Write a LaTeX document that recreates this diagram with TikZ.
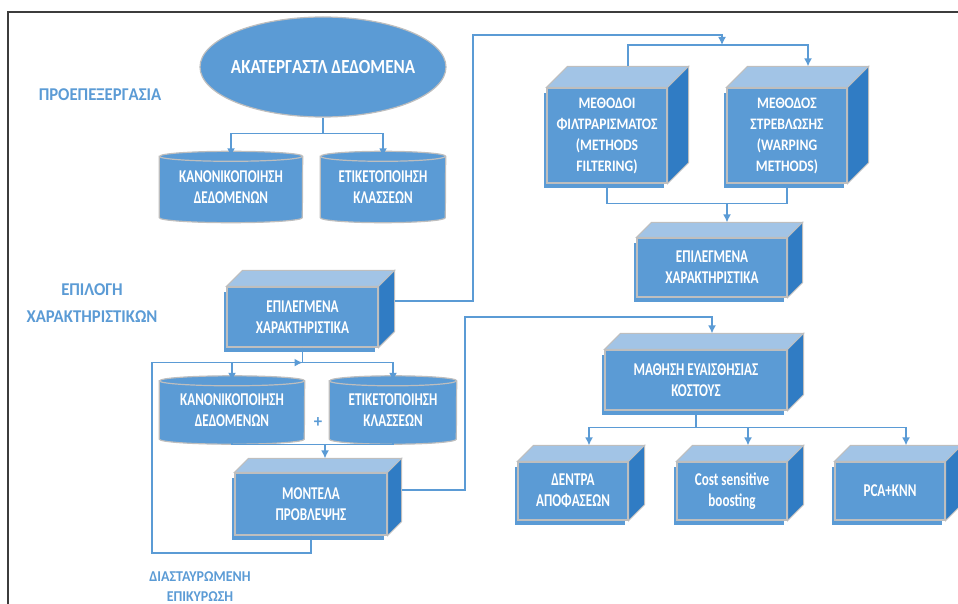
\documentclass[tikz,border=0pt]{standalone}
\usepackage{fontspec}
\newfontfamily\boxfont[FakeStretch=0.73]{Carlito}
\newfontfamily\methodfont[FakeStretch=0.85]{Carlito}
\newfontfamily\tagfont[FakeStretch=0.93]{Carlito}
\usepackage{tikz}
\usetikzlibrary{shapes.geometric, arrows.meta, shadows}
\definecolor{boxblue}{RGB}{91,155,213}
\definecolor{topblue}{RGB}{162,196,230}
\definecolor{sideblue}{RGB}{48,124,196}
\definecolor{rimgray}{RGB}{190,190,190}
\definecolor{framegray}{RGB}{60,60,60}
\tikzset{>={Latex[length=8pt,width=8pt]}}
\tikzset{
    front/.style={rectangle, fill=boxblue, draw=rimgray, line width=1.2pt, text=white, align=center,
        font=\boxfont\bfseries\fontsize{18}{21}\selectfont,
        drop shadow={opacity=1, fill=boxblue, shadow xshift=-3pt, shadow yshift=-5pt}},
    drumtext/.style={rectangle, inner sep=0pt, text=white, align=center, font=\boxfont\bfseries\fontsize{18}{21}\selectfont},
    drumline/.style={fill=boxblue, draw=rimgray, line width=1.2pt},
    link/.style={draw=boxblue, line width=1.5pt},
    tag/.style={text=boxblue, align=center, font=\tagfont\bfseries\fontsize{18}{27}\selectfont}
}
% cube faces on top of a front node: #1 node, #2 depth
\newcommand{\cube}[2]{
    \filldraw[fill=topblue, draw=rimgray, line width=1pt](#1.north west)--++(#2,-#2)--([shift={(#2,-#2)}]#1.north east)--(#1.north east)--cycle;
    \filldraw[fill=sideblue, draw=rimgray, line width=1pt](#1.north east)--++(#2,-#2)--([shift={(#2,-#2)}]#1.south east)--(#1.south east)--cycle;
    \coordinate (#1 top) at ([shift={(#2,-#2)}]#1.north);
    \coordinate (#1 side) at ([shift={(#2,-#2)}]#1.east);
}
% drum around a text node: #1 node, #2 half width
\newcommand{\drum}[2]{
    \filldraw[drumline](#1.north west)--(#1.south west)arc[start angle=180, end angle=360, x radius=#2pt, y radius=5pt]
        --(#1.north east)arc[start angle=0, end angle=180, x radius=#2pt, y radius=5pt]--cycle;
    \draw[drumline, fill=none](#1.north west)arc[start angle=180, end angle=360, x radius=#2pt, y radius=5pt];
}

\begin{document}
\begin{tikzpicture}[x=1pt, y=-1pt]
    \useasboundingbox (0, 0) rectangle (958, 604);
    \draw[framegray, line width=1.5pt](958, 12)--(8, 12)--(8, 604);

    % labels
    \node[tag] (pre) at (100, 95) {ΠΡΟΕΠΕΞΕΡΓΑΣΙΑ};
    \node[tag] (fsel) at (92, 303) {ΕΠΙΛΟΓΗ\\ΧΑΡΑΚΤΗΡΙΣΤΙΚΩΝ};
    \node[tag, font=\tagfont\bfseries\fontsize{15}{20}\selectfont] (cv) at (200, 587) {ΔΙΑΣΤΑΥΡΩΜΕΝΗ\\ΕΠΙΚΥΡΩΣΗ};
    \node[tag] (plus) at (318, 423) {+};

    % preprocessing
    \node[ellipse, fill=boxblue, draw=rimgray, line width=1.2pt, minimum width=246pt, minimum height=100pt] (raw) at (323, 67) {};
    \node[text=white, font=\methodfont\bfseries\fontsize{20}{24}\selectfont] at (raw) {ΑΚΑΤΕΡΓΑΣΤΛ ΔΕΔΟΜΕΝΑ};
    \node[drumtext, minimum width=143pt, minimum height=61pt] (norm1) at (231, 187) {};
    \drum{norm1}{71.5}
    \node[drumtext] at (norm1) {ΚΑΝΟΝΙΚΟΠΟΙΗΣΗ\\ΔΕΔΟΜΕΝΩΝ};
    \node[drumtext, minimum width=125pt, minimum height=61pt] (class1) at (383, 187) {};
    \drum{class1}{62.5}
    \node[drumtext] at (class1) {ΕΤΙΚΕΤΟΠΟΙΗΣΗ\\ΚΛΑΣΣΕΩΝ};

    % feature selection
    \node[front, minimum width=151pt, minimum height=60pt] (sel1) at (302.5, 317) {ΕΠΙΛΕΓΜΕΝΑ\\ΧΑΡΑΚΤΗΡΙΣΤΙΚΑ};
    \cube{sel1}{16}
    \node[drumtext, minimum width=145pt, minimum height=58pt] (norm2) at (232, 410) {};
    \drum{norm2}{72.5}
    \node[drumtext] at (norm2) {ΚΑΝΟΝΙΚΟΠΟΙΗΣΗ\\ΔΕΔΟΜΕΝΩΝ};
    \node[drumtext, minimum width=127pt, minimum height=58pt] (class2) at (393, 410) {};
    \drum{class2}{63.5}
    \node[drumtext] at (class2) {ΕΤΙΚΕΤΟΠΟΙΗΣΗ\\ΚΛΑΣΣΕΩΝ};
    \node[front, minimum width=152pt, minimum height=62pt] (model) at (311, 504) {ΜΟΝΤΕΛΑ\\ΠΡΟΒΛΕΨΗΣ};
    \cube{model}{14}

    % methods
    \node[front, minimum width=120pt, minimum height=95pt, font=\methodfont\bfseries\fontsize{16}{21}\selectfont] (filt) at (607, 135.5) {ΜΕΘΟΔΟΙ\\ΦΙΛΤΡΑΡΙΣΜΑΤΟΣ\\(METHODS\\FILTERING)};
    \cube{filt}{21}
    \node[front, minimum width=120pt, minimum height=95pt, font=\methodfont\bfseries\fontsize{16}{21}\selectfont] (warp) at (787, 135.5) {ΜΕΘΟΔΟΣ\\ΣΤΡΕΒΛΩΣΗΣ\\(WARPING\\METHODS)};
    \cube{warp}{21}
    \node[front, minimum width=150pt, minimum height=59pt] (sel2) at (712, 267.5) {ΕΠΙΛΕΓΜΕΝΑ\\ΧΑΡΑΚΤΗΡΙΣΤΙΚΑ};
    \cube{sel2}{15}

    % cost sensitive learning
    \node[front, minimum width=182pt, minimum height=60pt] (cost) at (696, 380) {ΜΑΘΗΣΗ ΕΥΑΙΣΘΗΣΙΑΣ\\ΚΟΣΤΟΥΣ};
    \cube{cost}{16}
    \node[front, minimum width=110pt, minimum height=58pt] (tree) at (573, 491) {ΔΕΝΤΡΑ\\ΑΠΟΦΑΣΕΩΝ};
    \cube{tree}{16}
    \node[front, minimum width=110pt, minimum height=58pt] (boost) at (732, 491) {Cost sensitive\\boosting};
    \cube{boost}{16}
    \node[front, minimum width=110pt, minimum height=58pt] (pca) at (890, 491) {PCA+KNN};
    \cube{pca}{16}

    % connectors
    \coordinate (s1) at ([yshift=-16pt]raw.south);
    \draw[link](raw.south)--(s1);
    \draw[link, ->](s1)-|(norm1.north);
    \draw[link, ->](s1)-|(class1.north);

    \coordinate (c1) at (473, 35);
    \coordinate (fork) at (722, 45);
    \draw[link, ->](sel1 side)-|(c1)-|(fork);
    \draw[link](fork)-|(filt top);
    \draw[link, ->](fork)-|(warp top);
    \coordinate (j2) at ([yshift=19pt]sel2 top);
    \draw[link](filt.south)|-(j2)-|(warp.south);
    \draw[link, ->](j2)--(sel2 top);

    \coordinate (j3) at ([yshift=-15pt]sel1.south);
    \draw[link](sel1.south)--(j3);
    \draw[link, ->](j3)-|(norm2.north);
    \draw[link, ->](j3)-|(class2.north);
    \coordinate (j4) at ([yshift=14pt]model top);
    \draw[link](norm2.south)|-(j4)-|(class2.south);
    \draw[link, ->](j4)--(model top);
    \coordinate (c2) at (152, 553);
    \draw[link, ->](model.south)|-(c2)|-(j3);

    \coordinate (c3) at (465, 317);
    \draw[link, ->](model side)-|(c3)-|(cost top);
    \coordinate (j5) at ([yshift=-17pt]cost.south);
    \draw[link](cost.south)--(j5);
    \draw[link, ->](j5)-|(tree top);
    \draw[link, ->](j5)-|(boost top);
    \draw[link, ->](j5)-|(pca top);
\end{tikzpicture}
\end{document}
